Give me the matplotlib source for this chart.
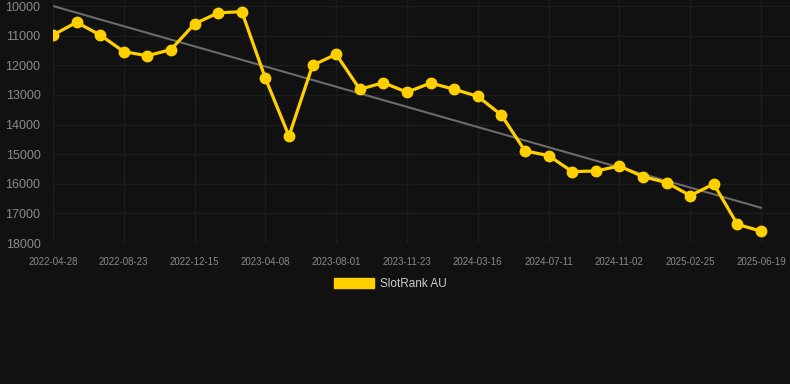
import numpy as np
import matplotlib.pyplot as plt
from matplotlib.patches import Patch

plt.rcParams['font.family'] = ['Liberation Sans', 'DejaVu Sans']

# data
tick_labels = ['2022-04-28', '2022-08-23', '2022-12-15', '2023-04-08',
               '2023-08-01', '2023-11-23', '2024-03-16', '2024-07-11',
               '2024-11-02', '2025-02-25', '2025-06-19']
rank = [10980, 10550, 10980, 11540, 11680, 11470, 10600, 10230, 10190, 12440,
        14390, 12000, 11630, 12810, 12590, 12910, 12600, 12810, 13050, 13680,
        14890, 15050, 15590, 15570, 15400, 15760, 15960, 16400, 16010, 17370,
        17600]
trend_ends = [10000, 16810]

bg = '#111111'
yellow = '#FFD000'

fig = plt.figure(figsize=(7.9, 3.84), dpi=100, facecolor=bg)
ax = fig.add_axes([53 / 790, 1 - 243 / 384, 1 - 53 / 790, 243 / 384])
ax.set_facecolor(bg)

x = np.arange(len(rank))
ax.plot([x[0], x[-1]], trend_ends, color='#6b6b6b', lw=1.5, zorder=2)
ax.plot(x, rank, color=yellow, lw=2.3, marker='o', ms=7.5, zorder=3)

ax.set_ylim(18000, 9797)
ax.set_xlim(0, 31.23)
ax.set_yticks(np.arange(10000, 18001, 1000))
ax.set_xticks(x[::3])
ax.set_xticklabels(tick_labels)

ax.grid(color='#1c1c1c', lw=1)
ax.tick_params(axis='both', length=0, colors='#8a8a8a')
ax.tick_params(axis='y', labelsize=9, pad=9)
ax.tick_params(axis='x', labelsize=7, pad=10)
for s in ax.spines.values():
    s.set_visible(False)

fig.legend(handles=[Patch(color=yellow, label='SlotRank AU')],
           loc='center', bbox_to_anchor=(390 / 790, 1 - 284 / 384),
           frameon=False, fontsize=8.5, labelcolor='#cccccc',
           handlelength=3.4, handleheight=1.0, handletextpad=0.5)

fig.savefig('out.png', dpi=100, facecolor=bg)
